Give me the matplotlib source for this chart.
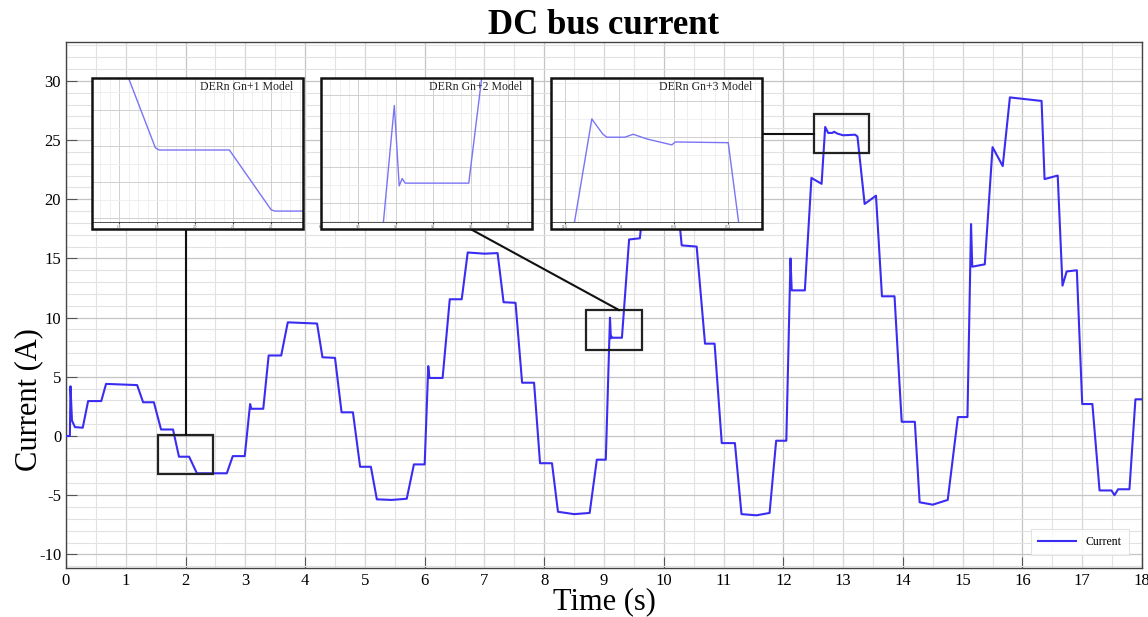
import numpy as np
import matplotlib
matplotlib.use('Agg')
import matplotlib.pyplot as plt
from matplotlib.patches import Rectangle
from matplotlib.ticker import MultipleLocator, FixedLocator

plt.rcParams['font.family'] = ['Liberation Serif', 'DejaVu Serif']
plt.rcParams['axes.unicode_minus'] = False

# DC bus current trace
time_s = [0.00, 0.065, 0.075, 0.10, 0.15, 0.28, 0.37, 0.59, 0.67, 1.19, 1.29, 1.47, 1.59, 1.79,
          1.89, 2.06, 2.19, 2.69, 2.79, 2.99, 3.08, 3.10, 3.30, 3.39, 3.60, 3.71, 4.20, 4.29,
          4.50, 4.61, 4.80, 4.92, 5.10, 5.20, 5.45, 5.70, 5.82, 6.00, 6.06, 6.08, 6.30, 6.42,
          6.62, 6.72, 7.00, 7.22, 7.32, 7.52, 7.63, 7.83, 7.93, 8.13, 8.23, 8.50, 8.76, 8.88,
          9.03, 9.10, 9.115, 9.125, 9.14, 9.30, 9.42, 9.60, 9.70, 10.20, 10.30, 10.55, 10.69,
          10.85, 10.97, 11.19, 11.30, 11.55, 11.77, 11.88, 12.05, 12.12, 12.14, 12.36, 12.47,
          12.64, 12.70, 12.75, 12.82, 12.85, 12.90, 13.00, 13.20, 13.24, 13.36, 13.55, 13.65,
          13.86, 13.98, 14.20, 14.28, 14.50, 14.75, 14.92, 15.08, 15.14, 15.16, 15.37, 15.50,
          15.67, 15.79, 16.32, 16.37, 16.59, 16.67, 16.74, 16.91, 17.00, 17.17, 17.29, 17.49,
          17.54, 17.60, 17.79, 17.89, 18.00]
current_a = [0.0, 0.0, 4.2, 1.3, 0.75, 0.7, 2.95, 2.95, 4.4, 4.3, 2.85, 2.85, 0.55, 0.55,
             -1.75, -1.75, -3.15, -3.15, -1.7, -1.7, 2.7, 2.3, 2.3, 6.8, 6.8, 9.6, 9.5, 6.65,
             6.6, 2.0, 2.0, -2.6, -2.6, -5.35, -5.4, -5.3, -2.4, -2.4, 5.9, 4.9, 4.9, 11.55,
             11.55, 15.5, 15.4, 15.45, 11.3, 11.25, 4.5, 4.5, -2.3, -2.3, -6.4, -6.6, -6.5, -2.0,
             -2.0, 10.0, 8.25, 8.4, 8.3, 8.3, 16.6, 16.7, 21.5, 21.3, 16.1, 16.0, 7.8,
             7.8, -0.6, -0.6, -6.6, -6.7, -6.5, -0.4, -0.4, 15.0, 12.3, 12.3, 21.8,
             21.3, 26.1, 25.6, 25.6, 25.7, 25.55, 25.4, 25.45, 25.3, 19.6, 20.3, 11.8,
             11.8, 1.2, 1.2, -5.6, -5.8, -5.4, 1.6, 1.6, 17.9, 14.3, 14.5, 24.4,
             22.8, 28.6, 28.3, 21.7, 22.0, 12.7, 13.9, 14.0, 2.7, 2.7, -4.6, -4.6,
             -5.0, -4.5, -4.5, 3.1, 3.1]

# zoomed views shown in the three insets
gn1_t = [1.78, 1.895, 1.905, 2.09, 2.20, 2.21, 2.30]
gn1_i = [0.90, -1.70, -1.75, -1.75, -3.12, -3.15, -3.15]
gn2_t = [9.06, 9.096, 9.109, 9.117, 9.125, 9.295, 9.34]
gn2_i = [6.85, 10.0, 8.24, 8.40, 8.30, 8.30, 11.3]
gn3_t = [12.62, 12.699, 12.72, 12.74, 12.754, 12.82, 12.851, 12.902, 12.993, 13.005, 13.20, 13.25]
gn3_i = [22.6, 26.10, 25.88, 25.68, 25.60, 25.60, 25.68, 25.55, 25.39, 25.47, 25.45, 22.6]

insets = [
    ('DERn Gn+1 Model', gn1_t, gn1_i, (1.728, 2.284), (-3.40, -0.10), [1.8, 1.9, 2.0, 2.1, 2.2]),
    ('DERn Gn+2 Model', gn2_t, gn2_i, (8.901, 9.464), (7.45, 10.60), [8.9, 9.0, 9.1, 9.2, 9.3, 9.4]),
    ('DERn Gn+3 Model', gn3_t, gn3_i, (12.549, 13.324), (23.28, 27.22), [12.6, 12.8, 13.0, 13.2]),
]
inset_left = [92, 321, 551]

line_color = '#3b2cf2'
W, H = 1148, 617

fig = plt.figure(figsize=(W / 100, H / 100), dpi=100)
ax = fig.add_axes([66 / W, 1 - 568 / H, 1076 / W, 526 / H])

ax.plot(time_s, current_a, color=line_color, lw=1.5, label='Current', zorder=3)
ax.set_xlim(0, 18)
ax.set_ylim(-11.15, 33.28)

# grid: fine minor lines, darker major lines
ax.xaxis.set_major_locator(FixedLocator(range(0, 19)))
ax.xaxis.set_minor_locator(MultipleLocator(0.5))
ax.yaxis.set_major_locator(MultipleLocator(5))
ax.yaxis.set_minor_locator(MultipleLocator(1))
ax.grid(which='major', color='#c4c4c4', lw=0.9)
ax.grid(which='minor', color='#e2e2e2', lw=0.8)
ax.tick_params(which='major', direction='in', length=8, color='#555555', labelsize=12)
ax.tick_params(which='minor', length=0)
for i, tl in enumerate(ax.xaxis.get_major_ticks()):
    if i % 2 == 1:
        tl.tick1line.set_visible(False)
        tl.gridline.set_color('#d6d6d6')
for s in ax.spines.values():
    s.set_color('#444444')
    s.set_linewidth(1.0)

ax.set_title('DC bus current', fontsize=25, fontweight='bold', pad=4)
ax.set_xlabel('Time (s)', fontsize=22)
ax.xaxis.set_label_coords(0.5, -0.036)
ax.set_ylabel('Current (A)', fontsize=22)
ax.yaxis.set_label_coords(-0.021, 0.321)

leg = ax.legend(loc='lower right', bbox_to_anchor=(0.993, 0.014), fontsize=8.5,
                handlelength=3.2, frameon=True, fancybox=False, borderpad=0.6)
leg.get_frame().set_edgecolor('#dddddd')
leg.get_frame().set_linewidth(0.8)

# zoom boxes and connector lines on the main plot
boxes = [(1.54, -3.21, 0.92, 3.29), (8.70, 7.26, 0.93, 3.38), (12.51, 23.9, 0.93, 3.3)]
for bx, by, bw, bh in boxes:
    ax.add_patch(Rectangle((bx, by), bw, bh, fill=False, ec='#222222', lw=1.6, zorder=4))
ax.plot([2.0, 2.0], [17.5, 0.08], color='#111111', lw=1.5, zorder=4)
ax.plot([6.76, 9.25], [17.5, 10.64], color='#111111', lw=1.5, zorder=4)
ax.plot([11.64, 12.51], [25.5, 25.5], color='#111111', lw=1.5, zorder=4)

# insets
for (label, it, ii, xl, yl, xt), left in zip(insets, inset_left):
    x0 = left / W
    w = 211 / W
    # white background + outer frame (includes the tick-label strip)
    fig.patches.append(Rectangle((x0, 1 - 229 / H), w, 151 / H, transform=fig.transFigure,
                                 facecolor='white', edgecolor='none', zorder=2))
    fig.patches.append(Rectangle((x0, 1 - 229 / H), w, 151 / H, transform=fig.transFigure,
                                 facecolor='none', edgecolor='#111111', lw=1.8, zorder=6))
    iax = fig.add_axes([x0, 1 - 222 / H, w, 144 / H], zorder=5)
    iax.plot(it, ii, color='#7a74f5', lw=1.0)
    iax.set_xlim(*xl)
    iax.set_ylim(*yl)
    iax.set_xticks(xt)
    iax.xaxis.set_minor_locator(MultipleLocator((xt[1] - xt[0]) / 4))
    iax.yaxis.set_major_locator(MultipleLocator((yl[1] - yl[0]) / 4))
    iax.yaxis.set_minor_locator(MultipleLocator((yl[1] - yl[0]) / 8))
    iax.grid(which='major', color='#d0d0d0', lw=0.7)
    iax.grid(which='minor', color='#ececec', lw=0.6)
    iax.tick_params(axis='x', labelsize=2.5, length=1.5, pad=1, colors='#444444')
    iax.tick_params(axis='y', left=False, labelleft=False)
    iax.tick_params(which='minor', length=0)
    for s in iax.spines.values():
        s.set_linewidth(0.6)
        s.set_color('#333333')
    iax.text(0.955, 0.94, label, transform=iax.transAxes, ha='right', va='center',
             fontsize=8.5, color='#222222')

fig.savefig('out.png', dpi=100)
